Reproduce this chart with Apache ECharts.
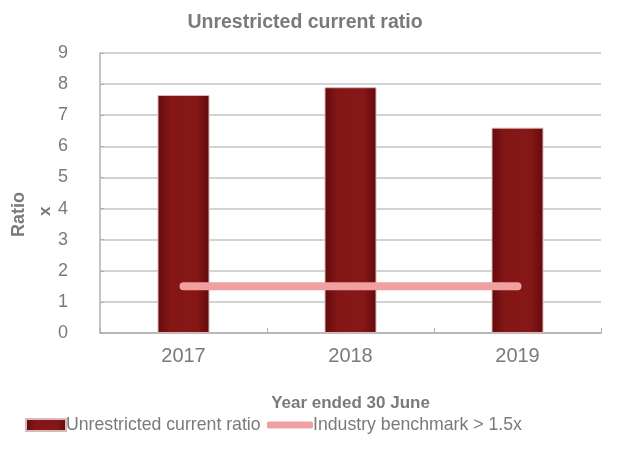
<!DOCTYPE html>
<html>
<head>
<meta charset="utf-8">
<script src="https://cdn.jsdelivr.net/npm/echarts@6/dist/echarts.min.js"></script>
<style>
  html, body { margin: 0; padding: 0; background: #fff; }
  #chart { width: 622px; height: 451px; }
</style>
</head>
<body>
<div id="chart"></div>
<script>
// Unrestricted current ratio by financial year, with the industry benchmark
const years = ['2017', '2018', '2019'];
const currentRatio = [7.65, 7.9, 6.6];
const benchmark = [1.5, 1.5, 1.5];
const yTicks = [0, 1, 2, 3, 4, 5, 6, 7, 8, 9];

const textGrey = '#7a7a7a';
const fontFamily = '"Liberation Sans", Arial, sans-serif';

const chart = echarts.init(document.getElementById('chart'));

chart.setOption({
  animation: false,
  backgroundColor: '#ffffff',
  textStyle: { fontFamily: fontFamily, color: textGrey },
  title: {
    text: 'Unrestricted current ratio',
    left: 300,
    top: 8,
    textAlign: 'center',
    textStyle: { fontSize: 19.5, fontWeight: 'bold', color: textGrey, fontFamily: fontFamily }
  },
  grid: { left: 100, right: 21, top: 53, bottom: 118 },
  legend: [
    {
      data: ['Unrestricted current ratio'],
      left: 20,
      top: 411,
      icon: 'rect',
      itemWidth: 40,
      itemHeight: 12,
      itemGap: 4,
      textStyle: { fontSize: 17.7, color: textGrey, fontFamily: fontFamily, padding: [0, 0, 0, -5] }
    },
    {
      data: ['Industry benchmark > 1.5x'],
      left: 262,
      top: 411,
      icon: 'roundRect',
      itemWidth: 46,
      itemHeight: 7,
      textStyle: { fontSize: 17.7, color: textGrey, fontFamily: fontFamily, padding: [0, 0, 0, -5] }
    }
  ],
  xAxis: {
    type: 'category',
    data: years,
    boundaryGap: true,
    name: 'Year ended 30 June',
    nameLocation: 'middle',
    nameGap: 62,
    nameTextStyle: { fontSize: 17, fontWeight: 'bold', color: textGrey, fontFamily: fontFamily },
    axisLine: { lineStyle: { color: '#b0b0b0', width: 1.5 } },
    axisTick: { show: true, inside: true, length: 5, lineStyle: { color: '#b0b0b0' } },
    axisLabel: { fontSize: 20, color: textGrey, margin: 13 }
  },
  yAxis: {
    type: 'value',
    min: 0,
    max: 9,
    interval: 1,
    axisLine: { show: true, lineStyle: { color: '#b0b0b0', width: 1.5 } },
    axisTick: { show: true, inside: true, length: 4, lineStyle: { color: '#b0b0b0' } },
    axisLabel: {
      fontSize: 18,
      color: textGrey,
      margin: 32,
      formatter: function (v) { return yTicks.indexOf(v) >= 0 ? String(v) : ''; }
    },
    splitLine: { show: true, lineStyle: { color: '#c4c4c4', width: 1.5 } }
  },
  graphic: [
    {
      type: 'text',
      x: 10,
      y: 237,
      rotation: Math.PI / 2,
      style: { text: 'Ratio', fill: textGrey, font: 'bold 18px ' + fontFamily }
    },
    {
      type: 'text',
      x: 37,
      y: 216,
      rotation: Math.PI / 2,
      style: { text: 'x', fill: textGrey, font: 'bold 17px ' + fontFamily }
    }
  ],
  series: [
    {
      name: 'Unrestricted current ratio',
      type: 'bar',
      data: currentRatio,
      barWidth: 52,
      itemStyle: {
        color: {
          type: 'linear', x: 0, y: 0, x2: 1, y2: 0,
          colorStops: [
            { offset: 0, color: '#620b0d' },
            { offset: 0.25, color: '#841616' },
            { offset: 0.75, color: '#861717' },
            { offset: 1, color: '#620b0d' }
          ]
        },
        borderColor: '#d8b8b8',
        borderWidth: 1
      },
      z: 2
    },
    {
      name: 'Industry benchmark > 1.5x',
      type: 'line',
      data: benchmark,
      symbol: 'none',
      color: '#f0a0a0',
      lineStyle: { color: '#f0a0a0', width: 8, cap: 'round' },
      z: 3
    }
  ]
});
</script>
</body>
</html>
